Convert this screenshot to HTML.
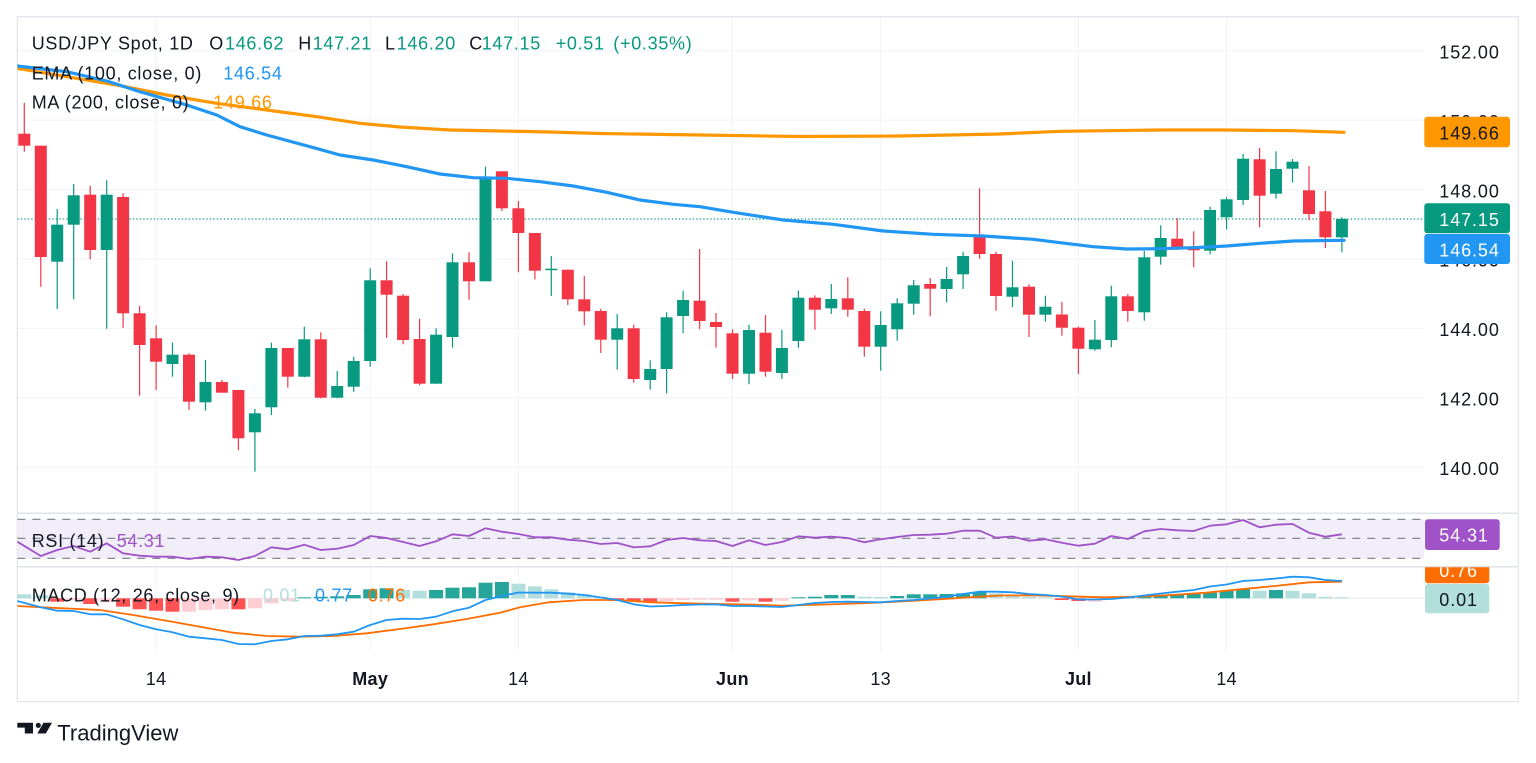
<!DOCTYPE html>
<html><head><meta charset="utf-8"><style>
html,body{margin:0;padding:0;background:#fff;}
svg{display:block;font-family:"Liberation Sans",Arial,sans-serif;}
.lg{font-size:18px;letter-spacing:0.7px;}
.ax{font-size:18px;letter-spacing:0.9px;fill:#131722;}
.dt{font-size:18px;fill:#131722;letter-spacing:0.3px;}
</style></head><body>
<svg width="1536" height="763" viewBox="0 0 1536 763" xmlns="http://www.w3.org/2000/svg">
<defs>
<clipPath id="cm"><rect x="17.3" y="16.7" width="1407" height="496.6"/></clipPath>
<clipPath id="cr"><rect x="17.3" y="513.3" width="1407" height="53.4"/></clipPath>
<clipPath id="cd"><rect x="17.3" y="566.7" width="1407" height="86"/></clipPath>
<clipPath id="cdl"><rect x="1420" y="567.2" width="100" height="60"/></clipPath>
</defs>
<rect width="1536" height="763" fill="#fff"/>

<g stroke="#F0F3FA" stroke-width="1">
<line x1="17.3" y1="50.7" x2="1424.3" y2="50.7"/>
<line x1="17.3" y1="120.1" x2="1424.3" y2="120.1"/>
<line x1="17.3" y1="189.5" x2="1424.3" y2="189.5"/>
<line x1="17.3" y1="258.9" x2="1424.3" y2="258.9"/>
<line x1="17.3" y1="328.4" x2="1424.3" y2="328.4"/>
<line x1="17.3" y1="397.8" x2="1424.3" y2="397.8"/>
<line x1="17.3" y1="467.3" x2="1424.3" y2="467.3"/>
<line x1="156.1" y1="16.7" x2="156.1" y2="652"/>
<line x1="370.2" y1="16.7" x2="370.2" y2="652"/>
<line x1="518.4" y1="16.7" x2="518.4" y2="652"/>
<line x1="732.5" y1="16.7" x2="732.5" y2="652"/>
<line x1="880.7" y1="16.7" x2="880.7" y2="652"/>
<line x1="1078.4" y1="16.7" x2="1078.4" y2="652"/>
<line x1="1226.6" y1="16.7" x2="1226.6" y2="652"/>
</g>

<rect x="17.3" y="16.7" width="1501" height="685" fill="none" stroke="#E0E3EB" stroke-width="1.2"/>
<line x1="17.3" y1="513.3" x2="1518.3" y2="513.3" stroke="#E0E3EB" stroke-width="1.5"/>
<line x1="17.3" y1="566.7" x2="1518.3" y2="566.7" stroke="#E0E3EB" stroke-width="1.5"/>

<g clip-path="url(#cm)">
<line x1="17.3" y1="219" x2="1424.3" y2="219" stroke="#089981" stroke-width="1.3" stroke-dasharray="1.3 2.2"/>
<g stroke="#F23645" stroke-width="1.2">
<line x1="24.3" y1="102.7" x2="24.3" y2="151.7"/>
<line x1="40.8" y1="145.7" x2="40.8" y2="286.7"/>
<line x1="90.2" y1="185.7" x2="90.2" y2="259.3"/>
<line x1="123.1" y1="193.3" x2="123.1" y2="327.7"/>
<line x1="139.6" y1="306" x2="139.6" y2="395.7"/>
<line x1="156.1" y1="325.3" x2="156.1" y2="390"/>
<line x1="189" y1="353.3" x2="189" y2="410"/>
<line x1="221.9" y1="380" x2="221.9" y2="392.7"/>
<line x1="238.4" y1="390" x2="238.4" y2="450.3"/>
<line x1="287.8" y1="348" x2="287.8" y2="387.7"/>
<line x1="320.8" y1="332.3" x2="320.8" y2="398.3"/>
<line x1="386.6" y1="261.3" x2="386.6" y2="337.7"/>
<line x1="403.1" y1="294" x2="403.1" y2="344.3"/>
<line x1="419.6" y1="318.7" x2="419.6" y2="385.3"/>
<line x1="469" y1="252.3" x2="469" y2="299.7"/>
<line x1="501.9" y1="171.3" x2="501.9" y2="211"/>
<line x1="518.4" y1="201" x2="518.4" y2="272.3"/>
<line x1="534.9" y1="233" x2="534.9" y2="279.3"/>
<line x1="567.8" y1="269.7" x2="567.8" y2="305"/>
<line x1="584.3" y1="276" x2="584.3" y2="325.3"/>
<line x1="600.8" y1="308.7" x2="600.8" y2="353"/>
<line x1="633.7" y1="324.7" x2="633.7" y2="382.7"/>
<line x1="699.6" y1="249" x2="699.6" y2="329.3"/>
<line x1="716" y1="313" x2="716" y2="347.5"/>
<line x1="732.5" y1="329.3" x2="732.5" y2="379"/>
<line x1="765.5" y1="315" x2="765.5" y2="376.7"/>
<line x1="814.9" y1="295.3" x2="814.9" y2="329.7"/>
<line x1="847.8" y1="277.3" x2="847.8" y2="316.7"/>
<line x1="864.3" y1="308.7" x2="864.3" y2="356.7"/>
<line x1="930.2" y1="278" x2="930.2" y2="316.3"/>
<line x1="979.6" y1="188.3" x2="979.6" y2="258.7"/>
<line x1="996" y1="251.7" x2="996" y2="310.7"/>
<line x1="1029" y1="284.3" x2="1029" y2="337"/>
<line x1="1061.9" y1="302" x2="1061.9" y2="335.7"/>
<line x1="1078.4" y1="326.7" x2="1078.4" y2="374"/>
<line x1="1127.8" y1="294" x2="1127.8" y2="321.7"/>
<line x1="1177.2" y1="218" x2="1177.2" y2="250"/>
<line x1="1193.7" y1="231.3" x2="1193.7" y2="267.3"/>
<line x1="1259.6" y1="148" x2="1259.6" y2="227.3"/>
<line x1="1309" y1="166" x2="1309" y2="220.3"/>
<line x1="1325.4" y1="191" x2="1325.4" y2="248"/>
</g>
<g fill="#F23645">
<rect x="18.3" y="133.7" width="12" height="12"/>
<rect x="34.8" y="145.7" width="12" height="111.3"/>
<rect x="84.2" y="194.7" width="12" height="55.3"/>
<rect x="117.1" y="197" width="12" height="116.3"/>
<rect x="133.6" y="313.3" width="12" height="31.7"/>
<rect x="150.1" y="338.3" width="12" height="23.4"/>
<rect x="183" y="354.7" width="12" height="47"/>
<rect x="215.9" y="382" width="12" height="10.7"/>
<rect x="232.4" y="390" width="12" height="48.3"/>
<rect x="281.8" y="348" width="12" height="28.7"/>
<rect x="314.8" y="339.3" width="12" height="58.4"/>
<rect x="380.6" y="280.3" width="12" height="14.4"/>
<rect x="397.1" y="295.7" width="12" height="44.3"/>
<rect x="413.6" y="339" width="12" height="44.7"/>
<rect x="463" y="262.3" width="12" height="19"/>
<rect x="495.9" y="171.3" width="12" height="37"/>
<rect x="512.4" y="208.3" width="12" height="24.7"/>
<rect x="528.9" y="233" width="12" height="37.7"/>
<rect x="561.8" y="269.7" width="12" height="29.6"/>
<rect x="578.3" y="299.3" width="12" height="12"/>
<rect x="594.8" y="311" width="12" height="28.7"/>
<rect x="627.7" y="328.3" width="12" height="50.7"/>
<rect x="693.6" y="300.7" width="12" height="20.3"/>
<rect x="710" y="322" width="12" height="5"/>
<rect x="726.5" y="333.3" width="12" height="40.4"/>
<rect x="759.5" y="332.7" width="12" height="39"/>
<rect x="808.9" y="297.7" width="12" height="12"/>
<rect x="841.8" y="298.3" width="12" height="11.4"/>
<rect x="858.3" y="311" width="12" height="35.7"/>
<rect x="924.2" y="284" width="12" height="4.7"/>
<rect x="973.6" y="235.3" width="12" height="18.7"/>
<rect x="990" y="254" width="12" height="42"/>
<rect x="1023" y="286.7" width="12" height="28"/>
<rect x="1055.9" y="314.5" width="12" height="13.2"/>
<rect x="1072.4" y="327.7" width="12" height="21"/>
<rect x="1121.8" y="296.3" width="12" height="14.7"/>
<rect x="1171.2" y="238.7" width="12" height="9.3"/>
<rect x="1187.7" y="246.7" width="12" height="3.6"/>
<rect x="1253.6" y="159.3" width="12" height="36.4"/>
<rect x="1303" y="190.3" width="12" height="23.7"/>
<rect x="1319.4" y="211.3" width="12" height="26"/>
</g>
<g stroke="#089981" stroke-width="1.2">
<line x1="57.2" y1="209" x2="57.2" y2="309"/>
<line x1="73.7" y1="184" x2="73.7" y2="299.3"/>
<line x1="106.7" y1="180.3" x2="106.7" y2="328.7"/>
<line x1="172.5" y1="342.7" x2="172.5" y2="376.7"/>
<line x1="205.5" y1="360" x2="205.5" y2="410.7"/>
<line x1="254.9" y1="409" x2="254.9" y2="471.7"/>
<line x1="271.4" y1="342.7" x2="271.4" y2="415"/>
<line x1="304.3" y1="326.7" x2="304.3" y2="377.3"/>
<line x1="337.2" y1="371" x2="337.2" y2="398.3"/>
<line x1="353.7" y1="356.7" x2="353.7" y2="391.7"/>
<line x1="370.2" y1="268.3" x2="370.2" y2="366.7"/>
<line x1="436.1" y1="328.3" x2="436.1" y2="383.7"/>
<line x1="452.5" y1="253.3" x2="452.5" y2="347.7"/>
<line x1="485.5" y1="166.7" x2="485.5" y2="281.3"/>
<line x1="551.3" y1="256" x2="551.3" y2="296"/>
<line x1="617.2" y1="314" x2="617.2" y2="369.7"/>
<line x1="650.2" y1="360.3" x2="650.2" y2="389.7"/>
<line x1="666.6" y1="312.3" x2="666.6" y2="393.3"/>
<line x1="683.1" y1="290.7" x2="683.1" y2="333.3"/>
<line x1="749" y1="324.7" x2="749" y2="384.3"/>
<line x1="781.9" y1="329.7" x2="781.9" y2="379"/>
<line x1="798.4" y1="290.7" x2="798.4" y2="347.7"/>
<line x1="831.3" y1="284" x2="831.3" y2="314"/>
<line x1="880.7" y1="311.3" x2="880.7" y2="370.7"/>
<line x1="897.2" y1="298.3" x2="897.2" y2="340.7"/>
<line x1="913.7" y1="280" x2="913.7" y2="314.7"/>
<line x1="946.6" y1="267" x2="946.6" y2="302.3"/>
<line x1="963.1" y1="251.7" x2="963.1" y2="289"/>
<line x1="1012.5" y1="260.7" x2="1012.5" y2="307"/>
<line x1="1045.4" y1="295.7" x2="1045.4" y2="321.7"/>
<line x1="1094.9" y1="320" x2="1094.9" y2="350.7"/>
<line x1="1111.3" y1="285.7" x2="1111.3" y2="347.3"/>
<line x1="1144.3" y1="251" x2="1144.3" y2="320.7"/>
<line x1="1160.7" y1="225.3" x2="1160.7" y2="264.7"/>
<line x1="1210.1" y1="206.7" x2="1210.1" y2="254.3"/>
<line x1="1226.6" y1="197.3" x2="1226.6" y2="229.3"/>
<line x1="1243.1" y1="154" x2="1243.1" y2="205"/>
<line x1="1276" y1="151.3" x2="1276" y2="198.7"/>
<line x1="1292.5" y1="159" x2="1292.5" y2="182.7"/>
<line x1="1341.9" y1="217.3" x2="1341.9" y2="252.3"/>
</g>
<g fill="#089981">
<rect x="51.2" y="224.7" width="12" height="37"/>
<rect x="67.7" y="195.3" width="12" height="29.4"/>
<rect x="100.7" y="194.7" width="12" height="55.3"/>
<rect x="166.5" y="354.7" width="12" height="9.3"/>
<rect x="199.5" y="382" width="12" height="20.3"/>
<rect x="248.9" y="413.3" width="12" height="19"/>
<rect x="265.4" y="348" width="12" height="59.3"/>
<rect x="298.3" y="339.3" width="12" height="37.4"/>
<rect x="331.2" y="386" width="12" height="11.7"/>
<rect x="347.7" y="361" width="12" height="25.7"/>
<rect x="364.2" y="280.3" width="12" height="80.7"/>
<rect x="430.1" y="334.7" width="12" height="49"/>
<rect x="446.5" y="262.3" width="12" height="74.7"/>
<rect x="479.5" y="178.7" width="12" height="102.6"/>
<rect x="545.3" y="268.7" width="12" height="1.5"/>
<rect x="611.2" y="328.3" width="12" height="11.4"/>
<rect x="644.2" y="369" width="12" height="11"/>
<rect x="660.6" y="317.3" width="12" height="51.7"/>
<rect x="677.1" y="300" width="12" height="16"/>
<rect x="743" y="330" width="12" height="43.7"/>
<rect x="775.9" y="348" width="12" height="25"/>
<rect x="792.4" y="297.7" width="12" height="43.3"/>
<rect x="825.3" y="299" width="12" height="9.3"/>
<rect x="874.7" y="325" width="12" height="21.7"/>
<rect x="891.2" y="303.3" width="12" height="26"/>
<rect x="907.7" y="285.3" width="12" height="18.4"/>
<rect x="940.6" y="279" width="12" height="10"/>
<rect x="957.1" y="256" width="12" height="18.3"/>
<rect x="1006.5" y="287.3" width="12" height="9.4"/>
<rect x="1039.4" y="306.7" width="12" height="8"/>
<rect x="1088.9" y="339.7" width="12" height="9.6"/>
<rect x="1105.3" y="296.3" width="12" height="43.7"/>
<rect x="1138.3" y="257.3" width="12" height="55"/>
<rect x="1154.7" y="238" width="12" height="18.7"/>
<rect x="1204.1" y="210" width="12" height="40.7"/>
<rect x="1220.6" y="199.3" width="12" height="18"/>
<rect x="1237.1" y="158.7" width="12" height="41.3"/>
<rect x="1270" y="169" width="12" height="24.7"/>
<rect x="1286.5" y="161.7" width="12" height="7"/>
<rect x="1335.9" y="219" width="12" height="18.3"/>
</g>
<polyline fill="none" stroke="#FF9800" stroke-width="3.2" stroke-linejoin="round" stroke-linecap="round"
points="17.3,68.3 66.7,76.7 116.7,85 166.7,95 216.7,103.3 266.7,110 316.7,116.7 360,123.3 400,127 450,130 500,131 550,132 600,133.5 700,135 800,136.5 900,136 1000,134 1060,131.3 1160,130 1226.7,130 1293.3,130.7 1344,132.3"/>
<polyline fill="none" stroke="#2196F3" stroke-width="3.2" stroke-linejoin="round" stroke-linecap="round"
points="17.3,66 66.7,71.7 106.7,81 140,91.7 186.7,105 216.7,115 240,126.7 266.7,135 310,146.7 340,155 373.3,160 406.7,166.7 440,174 473.3,177.7 506.7,178.3 540,181.7 573.3,186 606.7,192.3 640,200 673.3,204.3 700,206.7 733.3,212.3 783.3,220 833.3,224.3 883.3,231 933.3,234.3 983.3,236 1033.3,239.3 1060,242.7 1093.3,246.7 1126.7,249 1160,248.7 1193.3,247.7 1226.7,246 1260,243.3 1293.3,241 1344,240.3"/>
</g>

<g clip-path="url(#cr)">
<rect x="17.3" y="519.3" width="1407" height="39" fill="#F1EEF9"/>
<g stroke="#787B86" stroke-width="1.2" stroke-dasharray="8 7">
<line x1="17.3" y1="519.3" x2="1424.3" y2="519.3"/>
<line x1="17.3" y1="538.3" x2="1424.3" y2="538.3"/>
<line x1="17.3" y1="558.3" x2="1424.3" y2="558.3"/>
</g>
<polyline fill="none" stroke="#A052C8" stroke-width="1.8" stroke-linejoin="round"
points="17.3,541.7 40.8,556 57.2,550 73.7,546 90.2,551.7 106.7,543.3 123.1,553.3 139.6,555.7 156.1,556.7 172.5,556.7 189,559 205.5,556.7 221.9,557.3 238.4,560 254.9,556 271.4,547.3 287.8,549.3 304.3,544.7 320.8,550 337.2,548.7 353.7,545 370.2,536 386.6,538 403.1,542 419.6,546 436.1,541.3 452.5,534.3 469,536 485.5,528.3 501.9,531.7 518.4,534 534.9,537.3 551.3,537.3 567.8,539.7 584.3,541 600.8,544 617.2,543 633.7,547.3 650.2,546.3 666.6,540 683.1,538 699.6,540.3 716,541 732.5,546 749,540.3 765.5,545 781.9,542 798.4,536.3 814.9,537.7 831.3,536.7 847.8,538 864.3,542.3 880.7,539.3 897.2,537 913.7,535 930.2,534.7 946.6,533.7 963.1,530.7 979.6,530.7 996,537.7 1012.5,536.5 1029,540.7 1045.4,539.3 1061.9,542.7 1078.4,545.7 1094.9,543.7 1111.3,536 1127.8,539 1144.3,531.3 1160.7,529 1177.2,530.3 1193.7,531 1210.1,525.7 1226.6,524.3 1243.1,520 1259.6,527.3 1276,524.7 1292.5,524 1309,532.7 1325.4,536.7 1341.9,534.3"/>
</g>

<g clip-path="url(#cd)">
<line x1="17.3" y1="598.3" x2="1424.3" y2="598.3" stroke="#E6E8EE" stroke-width="1"/>
<g fill="#B2DFDB">
<rect x="17.3" y="594.3" width="14" height="4"/>
<rect x="33.8" y="595.3" width="14" height="3"/>
<rect x="396.1" y="590" width="14" height="8.3"/>
<rect x="412.6" y="590.7" width="14" height="7.6"/>
<rect x="511.4" y="583.7" width="14" height="14.6"/>
<rect x="527.9" y="586.3" width="14" height="12"/>
<rect x="544.3" y="589.3" width="14" height="9"/>
<rect x="560.8" y="592.3" width="14" height="6"/>
<rect x="577.3" y="594.3" width="14" height="4"/>
<rect x="593.8" y="596.7" width="14" height="1.6"/>
<rect x="857.3" y="596.7" width="14" height="1.6"/>
<rect x="873.7" y="597" width="14" height="1.3"/>
<rect x="989" y="593.3" width="14" height="5"/>
<rect x="1005.5" y="595.3" width="14" height="3"/>
<rect x="1022" y="596.7" width="14" height="1.6"/>
<rect x="1038.4" y="597.3" width="14" height="1"/>
<rect x="1252.6" y="590.7" width="14" height="7.6"/>
<rect x="1285.5" y="590.7" width="14" height="7.6"/>
<rect x="1302" y="593.3" width="14" height="5"/>
<rect x="1318.4" y="596.7" width="14" height="1.6"/>
<rect x="1334.9" y="597.3" width="14" height="1"/>
</g>
<g fill="#26A69A">
<rect x="297.3" y="597.3" width="14" height="1"/>
<rect x="313.8" y="596.8" width="14" height="1.5"/>
<rect x="330.2" y="596.3" width="14" height="2"/>
<rect x="346.7" y="595" width="14" height="3.3"/>
<rect x="363.2" y="589.3" width="14" height="9"/>
<rect x="379.6" y="588.3" width="14" height="10"/>
<rect x="429.1" y="590" width="14" height="8.3"/>
<rect x="445.5" y="587.7" width="14" height="10.6"/>
<rect x="462" y="587.3" width="14" height="11"/>
<rect x="478.5" y="582.7" width="14" height="15.6"/>
<rect x="494.9" y="582" width="14" height="16.3"/>
<rect x="791.4" y="597.3" width="14" height="1"/>
<rect x="807.9" y="596.7" width="14" height="1.6"/>
<rect x="824.3" y="595" width="14" height="3.3"/>
<rect x="840.8" y="595" width="14" height="3.3"/>
<rect x="890.2" y="596" width="14" height="2.3"/>
<rect x="906.7" y="594.3" width="14" height="4"/>
<rect x="923.2" y="594.3" width="14" height="4"/>
<rect x="939.6" y="594" width="14" height="4.3"/>
<rect x="956.1" y="593.3" width="14" height="5"/>
<rect x="972.6" y="592.3" width="14" height="6"/>
<rect x="1120.8" y="596.8" width="14" height="1.5"/>
<rect x="1137.3" y="596.7" width="14" height="1.6"/>
<rect x="1153.7" y="595" width="14" height="3.3"/>
<rect x="1170.2" y="594" width="14" height="4.3"/>
<rect x="1186.7" y="593.3" width="14" height="5"/>
<rect x="1203.1" y="592.7" width="14" height="5.6"/>
<rect x="1219.6" y="591" width="14" height="7.3"/>
<rect x="1236.1" y="589.3" width="14" height="9"/>
<rect x="1269" y="590" width="14" height="8.3"/>
</g>
<g fill="#FF5252">
<rect x="50.2" y="598.3" width="14" height="3.4"/>
<rect x="83.2" y="598.3" width="14" height="5.7"/>
<rect x="116.1" y="598.3" width="14" height="8.4"/>
<rect x="132.6" y="598.3" width="14" height="11"/>
<rect x="149.1" y="598.3" width="14" height="12.4"/>
<rect x="165.5" y="598.3" width="14" height="13.4"/>
<rect x="231.4" y="598.3" width="14" height="11"/>
<rect x="610.2" y="598.3" width="14" height="2.7"/>
<rect x="626.7" y="598.3" width="14" height="3.4"/>
<rect x="643.2" y="598.3" width="14" height="4"/>
<rect x="725.5" y="598.3" width="14" height="3.4"/>
<rect x="758.5" y="598.3" width="14" height="3.4"/>
<rect x="1054.9" y="598.3" width="14" height="1.7"/>
<rect x="1071.4" y="598.3" width="14" height="2.7"/>
</g>
<g fill="#FFCDD2">
<rect x="66.7" y="598.3" width="14" height="2"/>
<rect x="99.7" y="598.3" width="14" height="4"/>
<rect x="182" y="598.3" width="14" height="13.4"/>
<rect x="198.5" y="598.3" width="14" height="11.7"/>
<rect x="214.9" y="598.3" width="14" height="11"/>
<rect x="247.9" y="598.3" width="14" height="10"/>
<rect x="264.4" y="598.3" width="14" height="5"/>
<rect x="280.8" y="598.3" width="14" height="2.7"/>
<rect x="659.6" y="598.3" width="14" height="3"/>
<rect x="676.1" y="598.3" width="14" height="1.7"/>
<rect x="692.6" y="598.3" width="14" height="1.4"/>
<rect x="709" y="598.3" width="14" height="1.4"/>
<rect x="742" y="598.3" width="14" height="2"/>
<rect x="774.9" y="598.3" width="14" height="2.4"/>
<rect x="1087.9" y="598.3" width="14" height="3.4"/>
<rect x="1104.3" y="598.3" width="14" height="1"/>
</g>
<polyline fill="none" stroke="#FF6D00" stroke-width="1.8" stroke-linejoin="round"
points="17.3,606 50,607.7 100,610 133,615 166.7,620.7 200,626.7 233.3,632.7 266.7,636 300,636.7 333.3,636 366.7,633.3 400,629 433.3,624.3 466.7,619 500,612.7 520,607.3 548.8,602.3 583.2,600 617.6,600 652,602.3 686.4,603.3 720.8,604 755.2,604.7 782.7,605.7 806.8,605 841.2,604 875.6,602.7 910,601 944.4,599 978.8,596.7 1000,595.5 1034,595.3 1068.7,596.3 1103,597.3 1137.5,596.7 1171.8,595 1206,592.7 1240.5,589.3 1275,586 1309,582.3 1341.9,581.7"/>
<polyline fill="none" stroke="#2196F3" stroke-width="1.8" stroke-linejoin="round"
points="17.3,601 40.8,607.3 57.2,610.7 73.7,611 90.2,614.3 106.7,614.3 123.1,619.3 139.6,625 156.1,629.3 172.5,632.3 189,636.7 205.5,638.3 221.9,640 238.4,644 254.9,644.3 271.4,641 287.8,639.3 304.3,636 320.8,635.7 337.2,634.3 353.7,631.7 370.2,625 386.6,620 403.1,618.7 419.6,619 436.1,616.7 452.5,611.3 469,607.7 485.5,600 501.9,596 518.4,592.5 534.9,592.7 551.3,592.7 567.8,593.7 584.3,595 600.8,597.5 617.2,600 633.7,604.3 650.2,606.5 666.6,606 683.1,605 699.6,604.5 716,604.3 732.5,606 749,606 765.5,606.5 781.9,607 798.4,605 814.9,603 831.3,602 847.8,601.7 864.3,602 880.7,602.3 897.2,601 913.7,600 930.2,598.5 946.6,596.7 963.1,594 979.6,591.7 996,591.7 1012.5,592.3 1029,594 1045.4,595 1061.9,596.5 1078.4,599.5 1094.9,599.5 1111.3,599 1127.8,597.5 1144.3,595.5 1160.7,593.5 1177.2,591.7 1193.7,590 1210.1,586.5 1226.6,584.5 1243.1,581 1259.6,580 1276,578.5 1292.5,576.7 1309,577.3 1325.4,580 1341.9,581"/>
</g>

<g class="lg">
<text x="31.7" y="49.3" fill="#131722">USD/JPY Spot, 1D</text>
<text x="209.3" y="49.3" fill="#131722">O</text>
<text x="225" y="49.3" fill="#089981">146.62</text>
<text x="298.3" y="49.3" fill="#131722">H</text>
<text x="312.7" y="49.3" fill="#089981">147.21</text>
<text x="385" y="49.3" fill="#131722">L</text>
<text x="396.7" y="49.3" fill="#089981">146.20</text>
<text x="469.3" y="49.3" fill="#131722">C</text>
<text x="481.7" y="49.3" fill="#089981">147.15</text>
<text x="555.7" y="49.3" fill="#089981">+0.51</text>
<text x="613.3" y="49.3" fill="#089981">(+0.35%)</text>
<text x="31.7" y="79.3" fill="#131722">EMA (100, close, 0)</text>
<text x="223.3" y="79.3" fill="#2196F3">146.54</text>
<text x="31.7" y="108.3" fill="#131722">MA (200, close, 0)</text>
<text x="213.3" y="108.3" fill="#FF9800">149.66</text>
<text x="31.7" y="547" fill="#131722">RSI (14)</text>
<text x="116.7" y="547" fill="#A052C8">54.31</text>
<text x="31.7" y="601.5" fill="#131722">MACD (12, 26, close, 9)</text>
<text x="263" y="601.5" fill="#B2DFDB">0.01</text>
<text x="315" y="601.5" fill="#2196F3">0.77</text>
<text x="368" y="601.5" fill="#FF6D00">0.76</text>
</g>

<g class="ax">
<text x="1439.3" y="58.4">152.00</text>
<text x="1439.3" y="127.8">150.00</text>
<text x="1439.3" y="197.3">148.00</text>
<text x="1439.3" y="266.7">146.00</text>
<text x="1439.3" y="336.2">144.00</text>
<text x="1439.3" y="405.6">142.00</text>
<text x="1439.3" y="475.1">140.00</text>
</g>
<rect x="1424.3" y="116.7" width="85.7" height="30.6" rx="3" fill="#FF9800"/>
<text x="1439.3" y="139.6" class="ax">149.66</text>
<rect x="1424.3" y="203.3" width="85.7" height="30" rx="3" fill="#089981"/>
<text x="1439.3" y="226" class="ax" style="fill:#fff">147.15</text>
<rect x="1424.3" y="234" width="85.7" height="30" rx="3" fill="#2196F3"/>
<text x="1439.3" y="256.5" class="ax" style="fill:#fff">146.54</text>
<rect x="1425" y="519.3" width="74.7" height="30.7" rx="3" fill="#A052C8"/>
<text x="1439.3" y="541.7" class="ax" style="fill:#fff">54.31</text>
<g clip-path="url(#cdl)">
<rect x="1425" y="560" width="64.3" height="23.3" rx="3" fill="#FF6D00"/>
<text x="1439.3" y="577" class="ax" style="fill:#fff">0.76</text>
</g>
<rect x="1425" y="584" width="64.3" height="29.3" rx="3" fill="#B2DFDB"/>
<text x="1439.3" y="606" class="ax">0.01</text>

<g class="dt" text-anchor="middle">
<text x="156.1" y="685">14</text>
<text x="370.2" y="685" font-weight="bold">May</text>
<text x="518.4" y="685">14</text>
<text x="732.5" y="685" font-weight="bold">Jun</text>
<text x="880.7" y="685">13</text>
<text x="1078.4" y="685" font-weight="bold">Jul</text>
<text x="1226.6" y="685">14</text>
</g>

<g fill="#131722">
<path d="M17.3 722.7 H33 V733.5 H24.8 V727.6 H17.3 Z"/>
<circle cx="38.3" cy="725.3" r="2.6"/>
<polygon points="43.5,722.7 52,722.7 45.8,733.5 37.3,733.5"/>
</g>
<text x="57.3" y="740.6" font-size="22" fill="#131722">TradingView</text>
</svg>
</body></html>
